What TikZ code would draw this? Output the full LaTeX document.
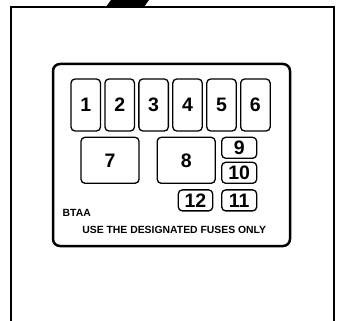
\documentclass[tikz,border=0pt]{standalone}
\usepackage{fontspec}
\setmainfont{Liberation Sans}
\begin{document}
\begin{tikzpicture}[x=1pt,y=-1pt,
  fuse/.style={draw, line width=1.3pt, rounded corners=4pt, inner sep=0pt,
    font=\fontsize{19.5}{20}\selectfont\bfseries},
  tall/.style={fuse, minimum width=29.5pt, minimum height=52pt},
  big/.style={fuse, minimum width=58pt, minimum height=46pt},
  small/.style={fuse, minimum width=35pt, minimum height=21pt},
  lbl/.style={inner sep=0pt, font=\fontsize{10.4}{11}\selectfont\bfseries}]
\useasboundingbox (0,0) rectangle (338,321);
% housing
\fill (106,7) -- (111,0) -- (149,0) -- (144,7) -- cycle;
\draw[line width=2pt] (10.5,321) -- (10.5,7) -- (334,7) -- (334,321);
% fuse box
\node[draw, line width=2.5pt, rounded corners=7pt, minimum width=237pt, minimum height=182pt, inner sep=0pt] (box) at (171.5,155) {};
% fuses
\node[tall] (f1) at (85.75,105) {1};
\node[tall] (f2) at (119.7,105) {2};
\node[tall] (f3) at (153.6,105) {3};
\node[tall] (f4) at (187.5,105) {4};
\node[tall] (f5) at (221.5,105) {5};
\node[tall] (f6) at (255.4,105) {6};
\node[big] (f7) at (110,160.3) {7};
\node[big] (f8) at (186.2,160.3) {8};
\node[small] (f9) at (239.2,147.8) {9};
\node[small] (f10) at (239.2,172.8) {10};
\node[small] (f11) at (239.2,200.4) {11};
\node[small, minimum width=34.4pt] (f12) at (195.5,200.4) {12};
% labels
\node[lbl, anchor=west] (btaa) at (62.5,213.3) {BTAA};
\node[lbl] (note) at (174.2,229.5) {USE THE DESIGNATED FUSES ONLY};
\end{tikzpicture}
\end{document}
